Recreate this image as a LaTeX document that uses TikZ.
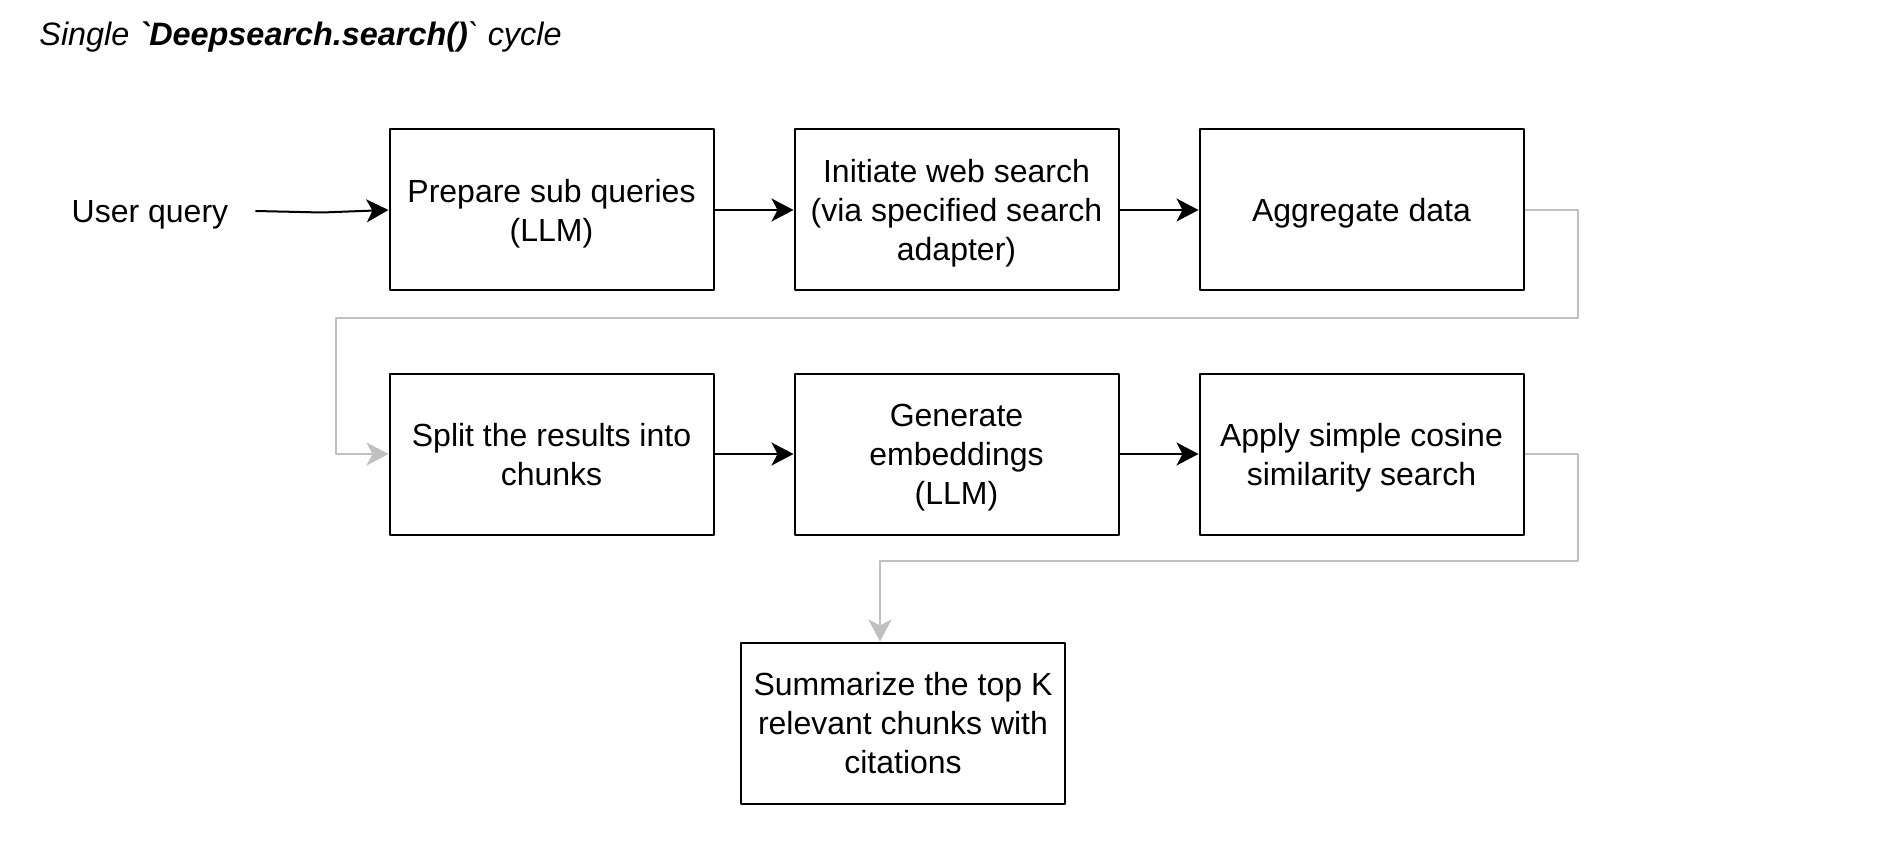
\documentclass[tikz,border=0pt]{standalone}
\usepackage{fontspec}
\setmainfont{Liberation Sans}
\usetikzlibrary{arrows.meta,positioning}
\definecolor{linkgray}{HTML}{C0C0C0}
\begin{document}
\begin{tikzpicture}[x=0.5pt,y=-0.5pt,line join=round,>={Stealth[length=11pt,width=11.5pt,inset=3pt]},
	font=\fontsize{16}{19.5}\selectfont,node distance=39.5pt,
	stepbox/.style={draw,line width=1pt,minimum width=162pt,minimum height=80.5pt,align=center,inner sep=0pt,text depth=0pt},
	flow/.style={->,line width=1pt},
	loopback/.style={->,line width=1pt,linkgray}]
	\useasboundingbox (0,0) rectangle (1880,866);
	\node[anchor=west,inner sep=0pt,font=\fontsize{16.2}{19.5}\selectfont] (title) at (39,36.5) {\itshape Single \textbf{\textasciigrave Deepsearch.search()}\textasciigrave\ cycle};
	% first row
	\node[inner sep=0pt,minimum width=105pt,text depth=0pt] (user) at (150,211) {User query};
	\node[stepbox] (prep) at (551.5,210) {Prepare sub queries\\(LLM)};
	\node[stepbox,right=of prep] (web) {Initiate web search\\(via specified search\\adapter)};
	\node[stepbox,right=of web] (agg) {Aggregate data};
	% second row
	\node[stepbox,below=40.5pt of prep] (split) {Split the results into\\chunks};
	\node[stepbox,right=of split] (embed) {Generate\\embeddings\\(LLM)};
	\node[stepbox,right=of embed] (cos) {Apply simple cosine\\similarity search};
	\node[stepbox] (sum) at (903,723) {Summarize the top K\\relevant chunks with\\citations};
	\coordinate (bendR) at (1578,318);
	\coordinate (bendL) at (336,318);
	\coordinate (bendR2) at (1578,561);
	\coordinate (bendL2) at (880,561);
	\draw[flow] (user.east) -- (322,212.5) -- (prep.west);
	\draw[flow] (prep) -- (web);
	\draw[flow] (web) -- (agg);
	\draw[flow] (split) -- (embed);
	\draw[flow] (embed) -- (cos);
	\draw[loopback] (agg.east) -| (bendR) -- (bendL) |- (split.west);
	\draw[loopback] (cos.east) -| (bendR2) -- (bendL2) -- (bendL2 |- sum.north);
\end{tikzpicture}
\end{document}
